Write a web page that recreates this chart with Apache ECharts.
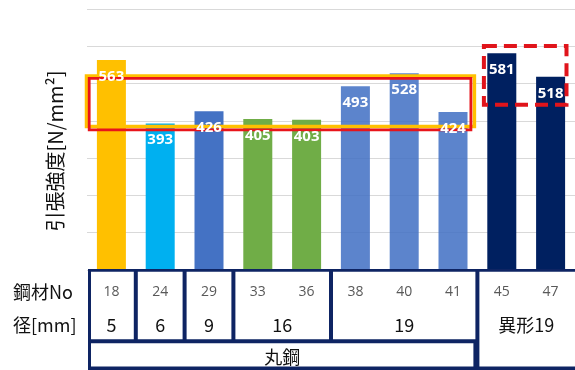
<!DOCTYPE html>
<html><head><meta charset="utf-8">
<script src="https://cdn.jsdelivr.net/npm/echarts@6/dist/echarts.min.js"></script>
<style>html,body{margin:0;padding:0;background:#fff}#c{width:575px;height:370px}</style>
</head><body><div id="c"></div>
<script>
// ---- data ----
const steelNo = ['18','24','29','33','36','38','40','41','45','47'];
const strength = [563,393,426,405,403,493,528,424,581,518];
const barColors = ['#FFC000','#00B0F0','#4472C4','#70AD47','#70AD47',
  'rgba(68,114,196,0.87)','rgba(68,114,196,0.87)','rgba(68,114,196,0.87)','#002060','#002060'];
const diameterLabels = ['5','6','9','16','19','異形19'];
const diameterSpans = [1,1,1,2,3,2];
const typeLabels = ['丸鋼'];
const typeSpans = [8];
const rowTitles = ['鋼材No','径[mm]'];
const yTitle = '引張強度[N/mm²]';
const yMin = 0, yMax = 700, yStep = 100;
// highlighted value ranges (annotation boxes)
const orangeBox = [385, 520];
const redBox = [376, 514];
const dashBox = [443, 601];

const FONT = "'Open Sans','Noto Sans CJK JP',sans-serif";
const JFONT = "'Noto Sans CJK JP','Open Sans',sans-serif";
const NAVY = '#0E2463';

const chart = echarts.init(document.getElementById('c'), null, {renderer:'canvas'});
chart.setOption({
  animation:false,
  grid:{left:87, top:9, width:493, height:261},
  xAxis:{type:'category', data:steelNo, axisLine:{show:false}, axisTick:{show:false}, axisLabel:{show:false}},
  yAxis:{type:'value', min:yMin, max:yMax, interval:yStep, axisLabel:{show:false}, axisLine:{show:false}, axisTick:{show:false},
    splitLine:{lineStyle:{color:'#d9d9d9', width:1}}},
  series:[
    {type:'bar', barWidth:29, z:2, data: strength.map((v,i)=>({value:v, itemStyle:{color:barColors[i]}}))},
    {type:'bar', barWidth:29, barGap:'-100%', z:5, silent:true, data: strength,
      itemStyle:{color:'rgba(0,0,0,0)'},
      label:{show:true, position:'insideTop', distance:9, color:'#fff', fontWeight:'bold', fontSize:15, fontFamily:FONT}}
  ]
});

const cx = i => chart.convertToPixel({xAxisIndex:0}, i);
const vy = v => chart.convertToPixel({yAxisIndex:0}, v);
const bw = cx(1) - cx(0);
const bs = i => cx(0) - bw/2 + i*bw;
const Y0 = vy(0);
const n = steelNo.length;
const rightEdge = bs(n) + 10;

const els = [];
// table background
els.push({type:'rect', z:10, shape:{x:bs(0)+1, y:Y0-1, width:rightEdge-(bs(0)+1), height:110}, style:{fill:NAVY}});
let typeEnd = 0; typeSpans.forEach(s=>typeEnd+=s);
let st = 0;
diameterSpans.forEach((span, g) => {
  const x0 = bs(st) + (st===0 ? 4 : 2);
  const x1 = (st+span===n) ? rightEdge : bs(st+span) - 2;
  const covered = st + span <= typeEnd;
  const y1 = covered ? Y0+69.3 : Y0+96.5;
  els.push({type:'rect', z:11, shape:{x:x0, y:Y0+1.7, width:x1-x0, height:y1-(Y0+1.7)}, style:{fill:'#fff'}});
  const mid = (cx(st) + cx(st+span-1))/2;
  els.push({type:'text', z:12, x:mid, y:Y0+55, style:{text:diameterLabels[g], fill:'#111', font:'18px '+JFONT,
    align:'center', verticalAlign:'middle', textAlign:'center', textVerticalAlign:'middle'}});
  st += span;
});
st = 0;
typeSpans.forEach((span, g) => {
  const x0 = bs(st) + (st===0 ? 4 : 2);
  const x1 = bs(st+span) - 4;
  els.push({type:'rect', z:11, shape:{x:x0, y:Y0+73.3, width:x1-x0, height:23.2}, style:{fill:'#fff'}});
  els.push({type:'text', z:12, x:(x0+x1)/2, y:Y0+87, style:{text:typeLabels[g], fill:'#111', font:'18px '+JFONT,
    align:'center', verticalAlign:'middle', textAlign:'center', textVerticalAlign:'middle'}});
  st += span;
});
steelNo.forEach((s,i) => {
  els.push({type:'text', z:12, x:cx(i), y:Y0+22, style:{text:s, fill:'#595959', font:'14px '+FONT,
    align:'center', verticalAlign:'middle', textAlign:'center', textVerticalAlign:'middle'}});
});
rowTitles.forEach((t,r) => {
  els.push({type:'text', z:12, x:13, y:Y0+22+r*33, style:{text:t, fill:'#111', font:'18px '+JFONT,
    align:'left', verticalAlign:'middle', textAlign:'left', textVerticalAlign:'middle'}});
});
// y axis title
els.push({type:'text', z:12, x:55, y:151, rotation:Math.PI/2, style:{text:yTitle, fill:'#111', font:'20px '+JFONT,
  align:'center', verticalAlign:'middle', textAlign:'center', textVerticalAlign:'middle'}});
// annotation boxes
const box = (x0, x1, range, stroke, lw, dash) => ({type:'rect', z:3,
  shape:{x:x0, y:vy(range[1]), width:x1-x0, height:vy(range[0])-vy(range[1])},
  style:{fill:'none', stroke:stroke, lineWidth:lw, lineDash:dash||null}});
els.push(box(bs(0)-0.5, bs(8)-3, orangeBox, '#FFC000', 3.5));
els.push(box(bs(0)+2.2, bs(8)-6.5, redBox, '#E8141B', 2.8));
els.push(box(bs(8)+6.5, bs(10)-8.5, dashBox, '#E0141B', 4, [13,7]));

chart.setOption({graphic:{elements:els}});
</script></body></html>
